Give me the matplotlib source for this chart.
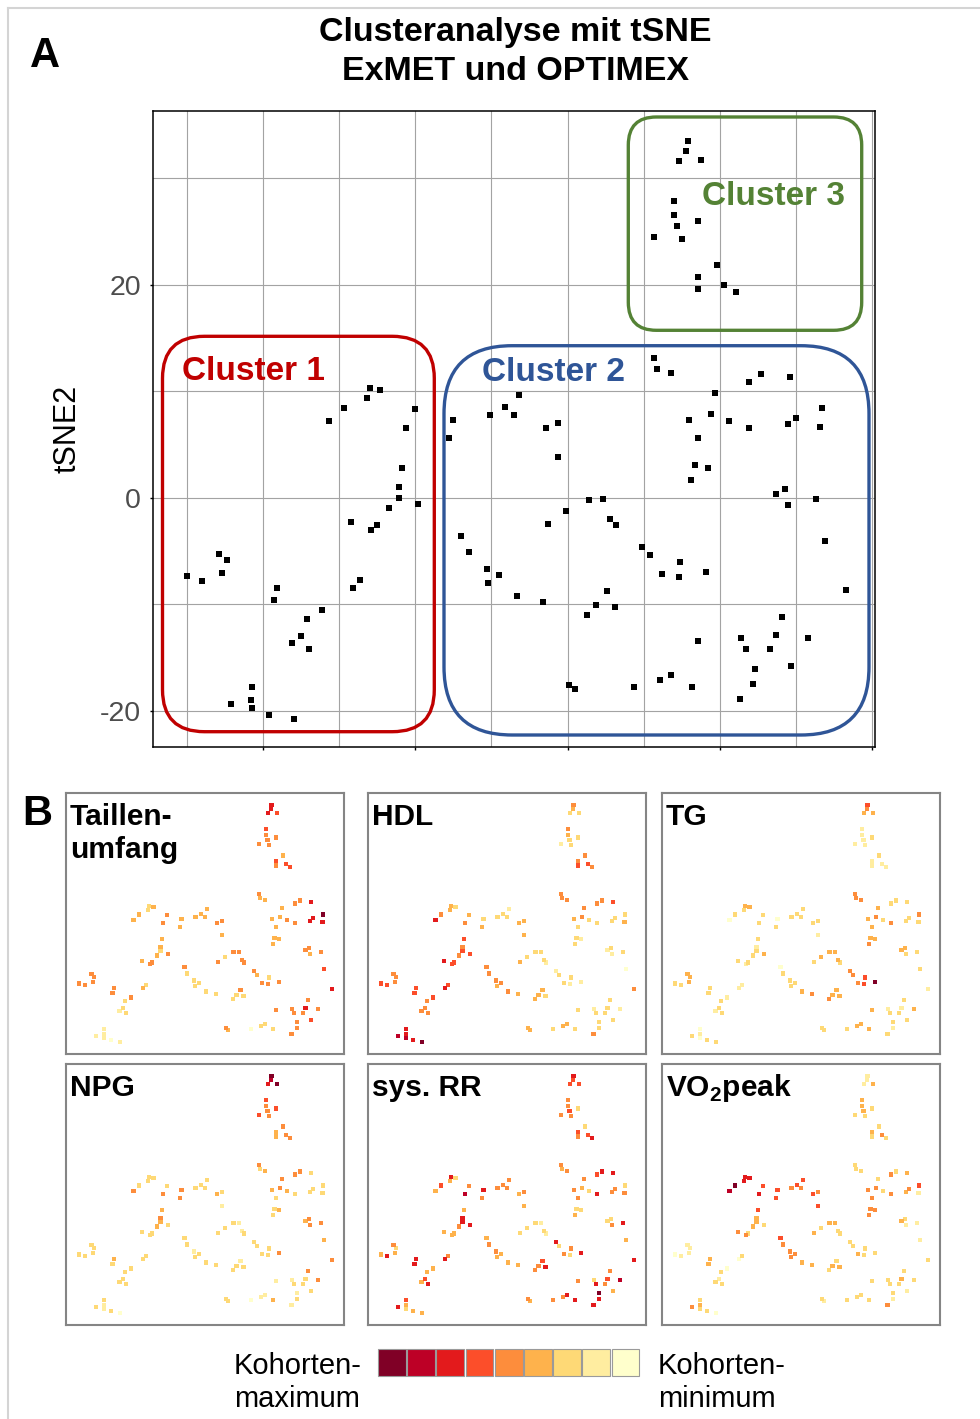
import matplotlib.pyplot as plt
from matplotlib.patches import FancyBboxPatch, Rectangle

plt.rcParams["font.family"] = ["Liberation Sans", "DejaVu Sans"]
plt.rcParams["mathtext.fontset"] = "custom"
plt.rcParams["mathtext.rm"] = "Liberation Sans"
plt.rcParams["mathtext.bf"] = "Liberation Sans:bold"

# tSNE coordinates
tsne1 = [-25.0, -24.0, -22.9, -22.4, -22.7,
         -19.1, -19.3, -16.1, -17.1, -17.5, -18.1, -17.0,
         -20.7, -20.8, -20.7, -22.1, -19.6, -18.0,
         -13.6, -14.1,
         -14.2, -12.5, -12.9,
         -11.7, -11.1, -11.1, -10.9, -9.8,
         -10.6, -10.0,
         -15.7, -14.7, -13.2, -13.0, -12.3,
         -7.8, -7.5, -5.1, -4.1, -3.5, -3.2,
         -1.4, -0.6, -0.6,
         -1.3, -0.1, 1.4, 2.3, 2.8, 3.2,
         4.9, 5.4, 7.4, 6.2, 7.3, 9.1,
         -7.0, -6.5, -5.3, -5.2, -4.5, -3.3, -1.6,
         1.9, 2.6, 3.1, 1.3,
         0.1, 0.5, 4.4, 6.1, 6.8, 8.2,
         8.6, 11.4, 11.7, 13.3, 13.7, 14.1, 15.8,
         12.3, 14.7, 12.2, 11.3,
         5.7, 5.9, 6.8,
         9.7, 8.0, 9.4, 10.6, 8.6, 8.4, 9.2, 8.1,
         11.9, 12.7, 14.6,
         11.9, 14.5, 15.0, 16.7, 16.6,
         13.7, 14.3, 14.5, 16.3, 16.9, 18.3,
         7.9, 7.8, 7.3, 8.8,
         7.0, 7.0, 7.2, 8.6, 5.7, 7.5,
         9.8, 8.6, 8.6, 10.3, 11.1]
tsne2 = [-7.4, -7.8, -5.3, -5.9, -7.1,
         -8.5, -9.6, -10.6, -11.4, -13.0, -13.7, -14.2,
         -17.8, -19.0, -19.8, -19.4, -20.4, -20.8,
         -7.7, -8.5,
         -2.3, -2.6, -3.0,
         -1.0, 0.0, 1.0, 2.8, -0.6,
         6.5, 8.3,
         7.2, 8.4, 9.4, 10.3, 10.1,
         5.6, 7.3, 7.8, 8.5, 7.8, 9.6,
         6.5, 7.0, 3.8,
         -2.5, -1.3, -0.2, -0.1, -2.0, -2.6,
         -4.6, -5.4, -6.0, -7.2, -7.5, -7.0,
         -3.6, -5.1, -6.7, -8.0, -7.3, -9.2, -9.8,
         -10.1, -8.8, -10.3, -11.0,
         -17.6, -18.0, -17.8, -17.1, -16.7, -17.8,
         -13.5, -13.2, -14.2, -14.2, -12.9, -11.2, -13.2,
         -16.1, -15.8, -17.5, -18.9,
         13.1, 12.1, 11.7,
         9.8, 7.3, 7.9, 7.2, 5.6, 3.1, 2.8, 1.7,
         10.9, 11.6, 11.3,
         6.5, 6.9, 7.5, 8.4, 6.6,
         0.3, 0.8, -0.7, -0.1, -4.1, -8.7,
         33.5, 32.6, 31.6, 31.7,
         27.9, 26.6, 25.5, 26.0, 24.5, 24.3,
         21.9, 20.7, 19.6, 20.0, 19.3]

# colour class per point, 1 = cohort minimum ... 9 = cohort maximum
taillenumfang = [5, 5, 5, 5, 5, 5, 5, 5, 3, 3, 2, 3, 2, 2, 2, 2, 1, 2, 3, 4,
                 4, 5, 5, 4, 3, 4, 4, 5, 5, 5, 4, 4, 3, 3, 4, 4, 4, 4, 4, 4,
                 4, 5, 5, 4, 5, 3, 5, 5, 5, 5, 5, 4, 3, 5, 5, 5, 5, 3, 3, 3,
                 3, 3, 3, 3, 5, 3, 3, 5, 4, 1, 3, 3, 3, 5, 5, 5, 5, 7, 5, 5,
                 5, 6, 5, 5, 5, 4, 4, 4, 4, 4, 5, 4, 4, 4, 4, 5, 5, 7, 5, 7,
                 7, 9, 7, 5, 5, 4, 5, 6, 7, 7, 7, 7, 6, 6, 5, 5, 5, 5, 5, 4,
                 6, 5, 6, 6]
hdl = [6, 6, 5, 5, 5, 6, 6, 6, 5, 5, 5, 5, 7, 7, 8, 8, 7, 9, 6, 7,
       7, 6, 6, 5, 6, 5, 6, 6, 5, 4, 7, 5, 4, 4, 3, 4, 3, 3, 3, 3,
       2, 4, 4, 4, 4, 3, 3, 3, 3, 2, 2, 3, 3, 3, 2, 2, 5, 5, 5, 4,
       5, 5, 4, 4, 4, 3, 4, 4, 4, 3, 4, 4, 3, 3, 2, 3, 3, 3, 3, 2,
       3, 3, 3, 5, 5, 5, 5, 5, 4, 5, 3, 3, 3, 2, 3, 5, 5, 6, 3, 3,
       3, 3, 4, 2, 3, 2, 3, 1, 5, 5, 4, 3, 3, 5, 4, 3, 3, 2, 3, 5,
       5, 6, 6, 5]
tg = [3, 3, 4, 4, 4, 3, 3, 2, 3, 3, 2, 3, 1, 2, 1, 3, 3, 3, 2, 2,
      3, 3, 2, 3, 3, 2, 3, 4, 3, 3, 1, 3, 3, 4, 4, 3, 1, 3, 3, 3,
      3, 3, 3, 2, 3, 4, 4, 4, 4, 3, 5, 5, 6, 5, 6, 9, 1, 3, 3, 3,
      3, 4, 5, 4, 4, 4, 5, 3, 3, 3, 4, 4, 4, 4, 2, 3, 3, 2, 3, 4,
      3, 3, 2, 3, 5, 5, 5, 4, 4, 5, 3, 4, 4, 4, 5, 3, 3, 3, 5, 3,
      3, 5, 3, 4, 4, 3, 3, 3, 2, 6, 5, 4, 4, 2, 2, 2, 3, 2, 2, 3,
      2, 2, 2, 2]
npg = [3, 3, 3, 3, 3, 4, 3, 3, 3, 3, 3, 3, 3, 2, 2, 3, 3, 1, 3, 3,
       3, 3, 3, 4, 4, 5, 4, 3, 5, 3, 5, 3, 3, 3, 3, 5, 5, 3, 3, 3,
       3, 4, 3, 2, 3, 3, 3, 2, 2, 3, 3, 3, 3, 3, 3, 5, 3, 3, 2, 3,
       3, 3, 3, 3, 2, 3, 3, 3, 3, 1, 2, 2, 4, 2, 2, 3, 3, 3, 5, 5,
       2, 3, 3, 2, 5, 3, 4, 5, 4, 5, 4, 3, 3, 4, 3, 5, 5, 3, 3, 3,
       3, 3, 3, 4, 5, 5, 5, 4, 5, 9, 8, 7, 9, 6, 5, 5, 6, 6, 5, 5,
       4, 4, 5, 5]
sys_rr = [4, 7, 5, 3, 4, 7, 7, 4, 4, 6, 4, 7, 6, 4, 3, 7, 4, 4, 5, 7,
          4, 4, 4, 5, 7, 7, 4, 7, 8, 5, 4, 6, 4, 7, 3, 5, 7, 5, 5, 5,
          5, 4, 5, 4, 3, 3, 3, 2, 3, 2, 7, 3, 5, 5, 3, 7, 4, 5, 5, 4,
          4, 4, 4, 5, 6, 7, 5, 5, 4, 5, 5, 7, 7, 5, 3, 7, 5, 6, 5, 8,
          9, 4, 7, 7, 5, 4, 5, 5, 5, 4, 3, 5, 3, 3, 4, 6, 7, 7, 7, 5,
          5, 3, 5, 3, 3, 5, 7, 4, 7, 7, 6, 6, 6, 5, 5, 6, 3, 5, 5, 3,
          6, 5, 6, 7]
vo2peak = [1, 2, 2, 2, 2, 4, 4, 1, 3, 2, 3, 3, 3, 4, 3, 5, 3, 1, 3, 1,
           5, 3, 5, 4, 4, 4, 6, 3, 7, 6, 8, 9, 7, 7, 7, 6, 6, 5, 6, 5,
           6, 6, 5, 6, 4, 3, 4, 4, 3, 3, 3, 3, 3, 4, 3, 3, 6, 5, 5, 5,
           5, 4, 4, 4, 3, 4, 3, 3, 2, 3, 3, 3, 3, 3, 3, 3, 3, 4, 3, 3,
           3, 2, 2, 5, 3, 3, 3, 3, 5, 5, 3, 5, 5, 5, 5, 5, 3, 4, 5, 4,
           5, 6, 2, 4, 3, 2, 2, 2, 3, 2, 2, 2, 4, 4, 4, 4, 3, 3, 3, 3,
           4, 3, 5, 3]

panel_labels = [["Taillen-", "umfang"], ["HDL"], ["TG"],
                ["NPG"], ["sys. RR"], [r"VO$_\mathbf{2}$peak"]]
panel_values = [taillenumfang, hdl, tg, npg, sys_rr, vo2peak]

# YlOrRd, 9 classes (index 0 = minimum)
palette = ["#ffffcc", "#ffeda0", "#fed976", "#feb24c", "#fd8d3c",
           "#fc4e2a", "#e31a1c", "#bd0026", "#800026"]

clusters = ["Cluster 1", "Cluster 2", "Cluster 3"]
cluster_colors = ["#c00000", "#2f5597", "#548235"]

XLIM = (-27.25, 20.2)
YLIM = (-23.4, 36.3)

W, H = 980, 1419
fig = plt.figure(figsize=(W / 100, H / 100), dpi=100)


def px_axes(left, top, right, bottom, **kw):
    return fig.add_axes([left / W, 1 - bottom / H, (right - left) / W, (bottom - top) / H], **kw)


# ---- panel A
ax = px_axes(152.7, 111.3, 875, 746.7)
ax.scatter(tsne1, tsne2, marker="s", s=15, c="black", linewidths=0, zorder=3)
ax.set_xlim(*XLIM)
ax.set_ylim(*YLIM)
ax.set_xticks([-20, -10, 0, 10, 20])
ax.set_xticklabels([])
ax.set_xticks([-25, -15, -5, 5, 15], minor=True)
ax.set_yticks([-20, 0, 20])
ax.set_yticklabels(["-20", "0", "20"])
ax.set_yticks([-10, 10, 30], minor=True)
ax.grid(True, which="both", color="#a3a3a3", lw=0.8)
ax.set_axisbelow(True)
ax.tick_params(which="minor", length=0)
ax.tick_params(which="major", length=2.5, width=1, color="black", labelsize=20.5,
               labelcolor="#4d4d4d", pad=6)
for sp in ax.spines.values():
    sp.set_color("black")
    sp.set_linewidth(1.1)

# ---- panel B small multiples
cols = [66, 368, 662]
rows = [792.5, 1063.5]
pw, ph = 277.5, 261
small_axes = []
for i, vals in enumerate(panel_values):
    left = cols[i % 3]
    top = rows[i // 3]
    sa = px_axes(left, top, left + pw, top + ph)
    order = sorted(range(len(vals)), key=lambda k: vals[k])
    sa.scatter([tsne1[k] for k in order], [tsne2[k] for k in order], marker="s", s=9,
               c=[palette[vals[k] - 1] for k in order], linewidths=0)
    sa.set_xlim(*XLIM)
    sa.set_ylim(*YLIM)
    sa.set_xticks([])
    sa.set_yticks([])
    for sp in sa.spines.values():
        sp.set_color("#858585")
        sp.set_linewidth(1.5)
    small_axes.append((left, top))

# ---- overlay for annotations
ov = fig.add_axes([0, 0, 1, 1], zorder=10)
ov.set_xlim(0, W)
ov.set_ylim(H, 0)
ov.axis("off")
ov.patch.set_alpha(0)

ov.plot([8, 8], [8, H], color="#d4d4d4", lw=1.5)
ov.plot([8, W], [8, 8], color="#d4d4d4", lw=1.5)

ov.text(30, 67, "A", fontsize=30, fontweight="bold", ha="left", va="baseline")
ov.text(22, 825, "B", fontsize=30, fontweight="bold", ha="left", va="baseline")
ov.text(515.5, 41.5, "Clusteranalyse mit tSNE", fontsize=24.5, fontweight="bold",
        ha="center", va="baseline")
ov.text(515.5, 80, "ExMET und OPTIMEX", fontsize=24.5, fontweight="bold",
        ha="center", va="baseline")
ov.text(67, 429, "tSNE2", fontsize=22, rotation=90, ha="center", va="center")

# cluster regions
boxes = [(162.5, 336.3, 434.3, 731.7, 42), (444, 345.7, 869, 735, 68),
         (628.3, 117, 861.7, 330.3, 28)]
label_pos = [(182.3, 379.7), (482, 381), (701.7, 204.7)]
for (l, t, r, b, rad), name, col, (tx, ty) in zip(boxes, clusters, cluster_colors, label_pos):
    ov.add_patch(FancyBboxPatch((l, t), r - l, b - t, boxstyle=f"round,pad=0,rounding_size={rad}",
                                fc="none", ec=col, lw=2.4))
    ov.text(tx, ty, name, color=col, fontsize=24, fontweight="bold", ha="left", va="baseline")

# small panel titles
for (left, top), lines in zip(small_axes, panel_labels):
    for j, line in enumerate(lines):
        ov.text(left + 4, top + 32.5 + j * 33.5, line, fontsize=21.5, fontweight="bold",
                ha="left", va="baseline")

# colour legend
for i, colr in enumerate(reversed(palette)):
    ov.add_patch(Rectangle((378 + i * 29.2, 1349), 27.7, 27, fc=colr, ec="#9a9a9a", lw=0.8))
ov.text(234, 1374, "Kohorten-", fontsize=21, ha="left", va="baseline")
ov.text(234, 1407, "maximum", fontsize=21, ha="left", va="baseline")
ov.text(658, 1374, "Kohorten-", fontsize=21, ha="left", va="baseline")
ov.text(658, 1407, "minimum", fontsize=21, ha="left", va="baseline")

fig.savefig("out.png", dpi=100)
